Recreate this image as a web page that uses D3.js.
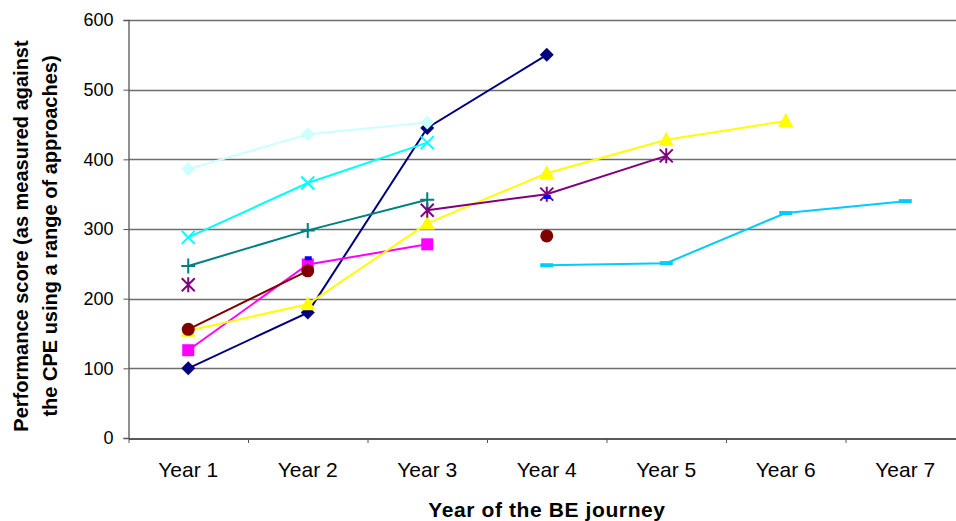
<!DOCTYPE html>
<html>
<head>
<meta charset="utf-8">
<script src="https://cdn.jsdelivr.net/npm/d3@7"></script>
<style>
  html, body { margin: 0; padding: 0; background: #fff; }
  svg { display: block; font-family: "Liberation Sans", Arial, sans-serif; }
</style>
</head>
<body>
<svg id="chart" width="956" height="521"></svg>
<script>
// Categories along the x axis
const years = ["Year 1", "Year 2", "Year 3", "Year 4", "Year 5", "Year 6", "Year 7"];
const yTicks = [0, 100, 200, 300, 400, 500, 600];

// One array per school; null = no score for that year
const navyScores      = [100, 180, 445, 550, null, null, null];
const magentaScores   = [126, 249, 278, null, null, null, null];
const yellowScores    = [154, 192, 308, 380, 428, 455, null];
const cyanScores      = [288, 366, 424, null, null, null, null];
const purpleScores    = [220, null, 327, 350, 405, null, null];
const darkRedScores   = [156, 240, null, 290, null, null, null];
const tealScores      = [247, 298, 342, null, null, null, null];
const blueScores      = [null, 258, null, 346, null, null, null];
const skyBlueScores   = [null, null, null, 248, 251, 323, 340];
const paleCyanScores  = [386, 436, 453, null, null, null, null];

const series = [
  { values: navyScores,     color: "#000080", marker: "diamond" },
  { values: magentaScores,  color: "#FF00FF", marker: "square" },
  { values: yellowScores,   color: "#FFFF00", marker: "triangle" },
  { values: cyanScores,     color: "#00FFFF", marker: "x" },
  { values: purpleScores,   color: "#800080", marker: "star" },
  { values: darkRedScores,  color: "#800000", marker: "circle" },
  { values: tealScores,     color: "#008080", marker: "plus" },
  { values: blueScores,     color: "#0000FF", marker: "shortdash" },
  { values: skyBlueScores,  color: "#00CCFF", marker: "longdash" },
  { values: paleCyanScores, color: "#CCFFFF", marker: "diamond" }
];

const svg = d3.select("#chart");
const margin = { left: 128.5, top: 20, bottom: 438 };
const plotRight = 965;

const x = d3.scaleBand().domain(years).range([margin.left, plotRight]);
const y = d3.scaleLinear().domain([0, 600]).range([margin.bottom, margin.top]);

// Horizontal gridlines
svg.append("g")
  .selectAll("line")
  .data(yTicks.filter(t => t > 0))
  .join("line")
  .attr("x1", margin.left).attr("x2", plotRight)
  .attr("y1", d => Math.round(y(d)) + 0.5).attr("y2", d => Math.round(y(d)) + 0.5)
  .attr("stroke", "#6e6e6e").attr("stroke-width", 1.3);

// Y axis
const yAxis = svg.append("g")
  .attr("transform", `translate(${margin.left},0)`)
  .call(d3.axisLeft(y).tickValues(yTicks).tickSize(5).tickPadding(10).tickFormat(d3.format("d")));
yAxis.select(".domain").attr("stroke", "#555").attr("stroke-width", 1.3);
yAxis.selectAll(".tick line").attr("stroke", "#555");
yAxis.selectAll(".tick text").attr("font-size", 18).attr("fill", "#000")
  .attr("font-family", "Liberation Sans, Arial, sans-serif");

// X axis
const xAxis = svg.append("g")
  .attr("transform", `translate(0,${Math.round(margin.bottom) + 0.5})`)
  .call(d3.axisBottom(x).tickSize(0).tickPadding(24));
xAxis.select(".domain").attr("stroke", "#222").attr("stroke-width", 1.3);
xAxis.selectAll(".tick text").attr("font-size", 21).attr("fill", "#000")
  .attr("font-family", "Liberation Sans, Arial, sans-serif");
// Tick marks at category boundaries
svg.append("g")
  .selectAll("line")
  .data(years)
  .join("line")
  .attr("x1", d => x(d) + 0.5).attr("x2", d => x(d) + 0.5)
  .attr("y1", margin.bottom).attr("y2", margin.bottom + 5)
  .attr("stroke", "#555");

// Axis titles
svg.append("text")
  .attr("x", 547).attr("y", 517)
  .attr("text-anchor", "middle")
  .attr("font-size", 21).attr("font-weight", "bold")
  .attr("letter-spacing", 0.6)
  .text("Year of the BE journey");

const yTitle = svg.append("text")
  .attr("transform", "translate(0,236) rotate(-90)")
  .attr("text-anchor", "middle")
  .attr("font-size", 20).attr("font-weight", "bold");
yTitle.append("tspan").attr("x", 0).attr("y", 28).text("Performance score (as measured against");
yTitle.append("tspan").attr("x", 0).attr("y", 57).text("the CPE using a range of approaches)");

// Lines and markers
const cx = i => x(years[i]) + x.bandwidth() / 2;
const line = d3.line()
  .defined(d => d != null)
  .x((d, i) => cx(i))
  .y(d => y(d));

function drawMarker(g, type, color) {
  switch (type) {
    case "diamond":
      g.append("path").attr("d", "M0,-7L7,0L0,7L-7,0Z").attr("fill", color); break;
    case "square":
      g.append("rect").attr("x", -6).attr("y", -6).attr("width", 12).attr("height", 12).attr("fill", color); break;
    case "triangle":
      g.append("path").attr("d", "M0,-8L7.5,6L-7.5,6Z").attr("fill", color); break;
    case "circle":
      g.append("circle").attr("r", 6.5).attr("fill", color); break;
    case "x":
      g.append("path").attr("d", "M-6.5,-6.5L6.5,6.5M-6.5,6.5L6.5,-6.5").attr("stroke", color).attr("stroke-width", 2); break;
    case "plus":
      g.append("path").attr("d", "M-7,0L7,0M0,-7.5L0,7.5").attr("stroke", color).attr("stroke-width", 2); break;
    case "star":
      g.append("path").attr("d", "M-6.5,-6.5L6.5,6.5M-6.5,6.5L6.5,-6.5M0,-7.5L0,7.5").attr("stroke", color).attr("stroke-width", 2); break;
    case "shortdash":
      g.append("rect").attr("x", -3).attr("y", -2).attr("width", 7).attr("height", 4).attr("fill", color); break;
    case "longdash":
      g.append("rect").attr("x", -6.5).attr("y", -2).attr("width", 13).attr("height", 4).attr("fill", color); break;
  }
}

series.forEach(s => {
  const g = svg.append("g");
  g.append("path")
    .datum(s.values)
    .attr("d", line)
    .attr("fill", "none")
    .attr("stroke", s.color)
    .attr("stroke-width", 2);
  s.values.forEach((v, i) => {
    if (v == null) return;
    const m = g.append("g").attr("transform", `translate(${cx(i)},${y(v)})`);
    drawMarker(m, s.marker, s.color);
  });
});
</script>
</body>
</html>
